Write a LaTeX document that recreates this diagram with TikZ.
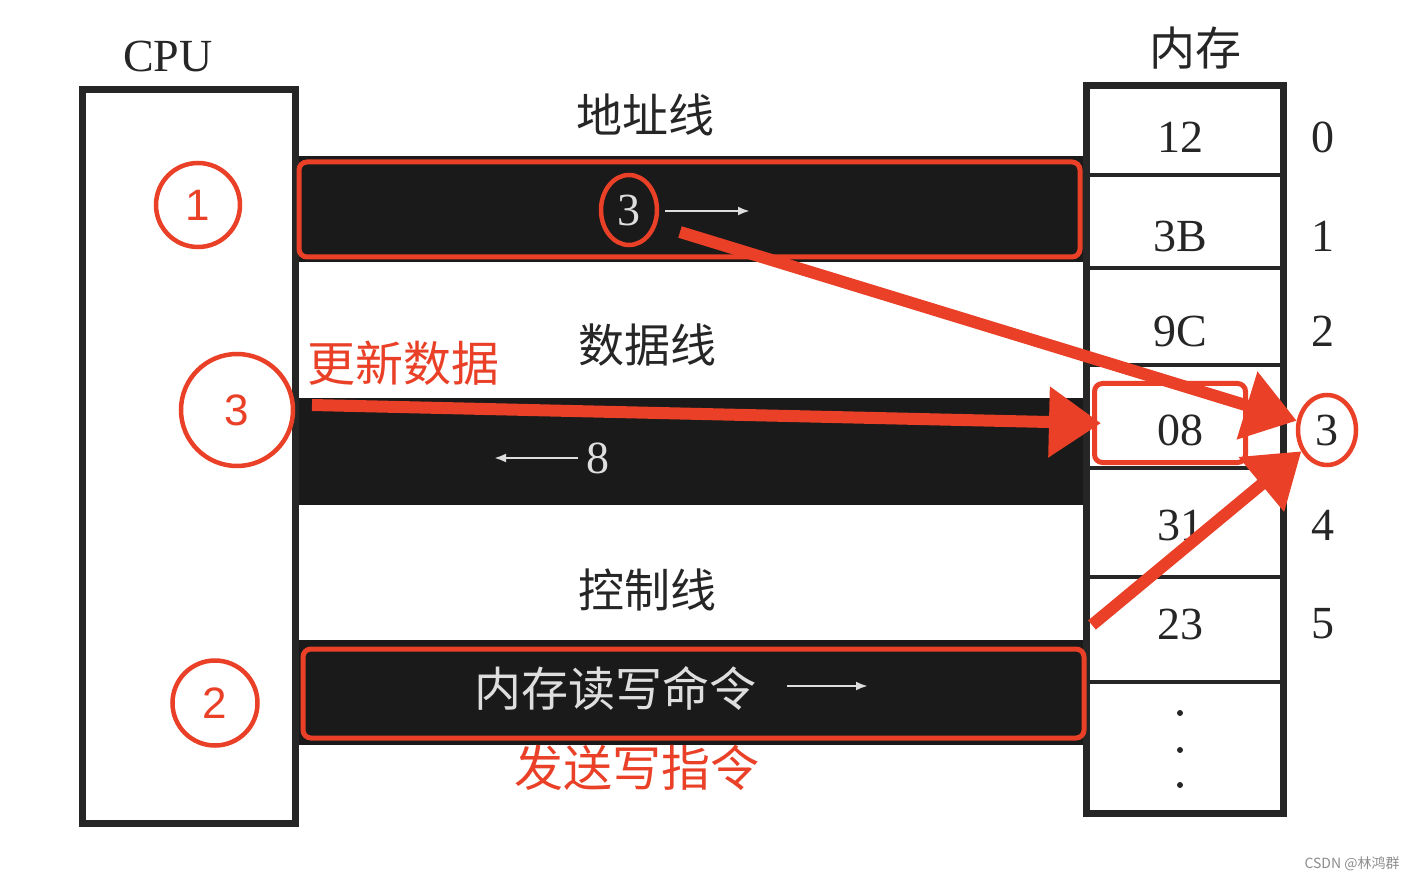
\documentclass[tikz,border=0pt]{standalone}
\usepackage{fontspec}
\setmainfont{Liberation Serif}
\setsansfont{Liberation Sans}
\newfontfamily\cjk{Noto Sans CJK SC}
\usepackage{tikz}
\usetikzlibrary{shapes.geometric, positioning, arrows.meta}
\definecolor{MarkRed}{RGB}{233,64,39}
\definecolor{InkGray}{RGB}{38,38,38}
\definecolor{BusBlack}{RGB}{26,26,26}
\definecolor{PaleInk}{RGB}{222,222,222}

\begin{document}
\begin{tikzpicture}[x=1pt, y=-1pt,
          box/.style={draw=InkGray, line width=7pt},
          cellsep/.style={draw=InkGray, line width=4pt},
          bus/.style={fill=BusBlack},
          lbl/.style={font=\cjk\fontsize{46}{46}\selectfont, text=InkGray},
          num/.style={font=\fontsize{46}{46}\selectfont, text=InkGray},
          redtxt/.style={font=\cjk\fontsize{48}{48}\selectfont, text=MarkRed},
          ring/.style={circle, draw=MarkRed, line width=4.5pt, inner sep=0pt,
                       font=\sffamily\fontsize{44}{44}\selectfont, text=MarkRed},
          redbox/.style={draw=MarkRed, line width=5pt, rounded corners=8pt},
          bigarr/.style={-{Triangle[length=52pt, width=68pt]}, draw=MarkRed,
                         fill=MarkRed, line width=12pt},
          wire/.style={-{Latex[length=12pt, width=9pt]}, draw=PaleInk, line width=2.6pt}
        ]
        \useasboundingbox[fill=white] (0,0) rectangle (1416,882);

        % buses
        \fill[bus] (295,156) rectangle (1086,262);
        \fill[bus] (295,398) rectangle (1090,505);
        \fill[bus] (295,640) rectangle (1086,745);

        % CPU and memory
        \draw[box] (82,90) rectangle (295,823);
        \node[font=\fontsize{46}{46}\selectfont, text=InkGray] (cpu) at (168,57) {CPU};
        \draw[box] (1086,86) rectangle (1283,813);
        \foreach \y in {175, 268, 365, 468, 577, 682}
          \draw[cellsep] (1086,\y) -- (1283,\y);
        \node[lbl] (mem) at (1195,48) {内存};
        \foreach \y/\v in {137/12, 236/3B, 331/9C, 430/08, 525/31, 624/23}
          \node[num] (cell\v) at (1180,\y) {\v};
        \foreach \y/\i in {137/0, 236/1, 331/2, 525/4, 624/5}
          \node[num] (idx\i) at (1323,\y) {\i};
        \foreach \y in {713, 750, 785}
          \fill[InkGray] (1180,\y) circle (3pt);

        % bus labels
        \node[lbl] (addrlbl) at (645,115) {地址线};
        \node[lbl] (datalbl) at (647,345) {数据线};
        \node[lbl] (ctrllbl) at (647,590) {控制线};

        \node[num, text=PaleInk, ellipse, draw=MarkRed, line width=4.5pt,
              minimum width=56pt, minimum height=70pt, inner sep=0pt]
              (addr3) at (629,210) {3};
        \coordinate (aw1) at (665,211);
        \coordinate (aw2) at (750,211);
        \draw[wire] (aw1) -- (aw2);

        \node[num, text=PaleInk] (data8) at (598,458) {8};
        \coordinate (dw1) at (578,458);
        \coordinate (dw2) at (494,458);
        \draw[wire] (dw1) -- (dw2);

        \node[lbl, font=\cjk\fontsize{47}{47}\selectfont, text=PaleInk] (cmd)
              at (615,688) {内存读写命令};
        \coordinate (cw1) at (787,686);
        \coordinate (cw2) at (868,686);
        \draw[wire] (cw1) -- (cw2);

        % red marks
        \draw[redbox] (299,162) rectangle (1080,257);
        \draw[redbox] (303,649) rectangle (1084,738);
        \node[redbox, minimum width=151pt, minimum height=79pt] (box08) at (1170,423) {};
        \node[num, ellipse, draw=MarkRed, line width=4.5pt, minimum width=58pt,
              minimum height=70pt, inner sep=0pt] (idx3) at (1327,430) {3};

        \node[ring, minimum size=84pt] (step1) at (198,205) {1};
        \node[ring, minimum size=112pt] (step3) at (237,410) {3};
        \node[ring, minimum size=85pt] (step2) at (215,703) {2};

        \node[redtxt] (upd) at (403,363) {更新数据};
        \node[redtxt, font=\cjk\fontsize{49}{49}\selectfont] (send) at (637,768) {发送写指令};

        \coordinate (a1) at (680,232);
        \coordinate (a2) at (312,405);
        \coordinate (a3) at (1092,625);
        \draw[bigarr] (a1) -- (idx3);
        \draw[bigarr, shorten >=-9pt] (a2) -- (box08.west);
        \draw[bigarr] (a3) -- (idx3);

        \node[font=\cjk\fontsize{14}{14}\selectfont, text=black!45] (mark) at (1352,864)
              {CSDN @林鸿群};
      \end{tikzpicture}
\end{document}
